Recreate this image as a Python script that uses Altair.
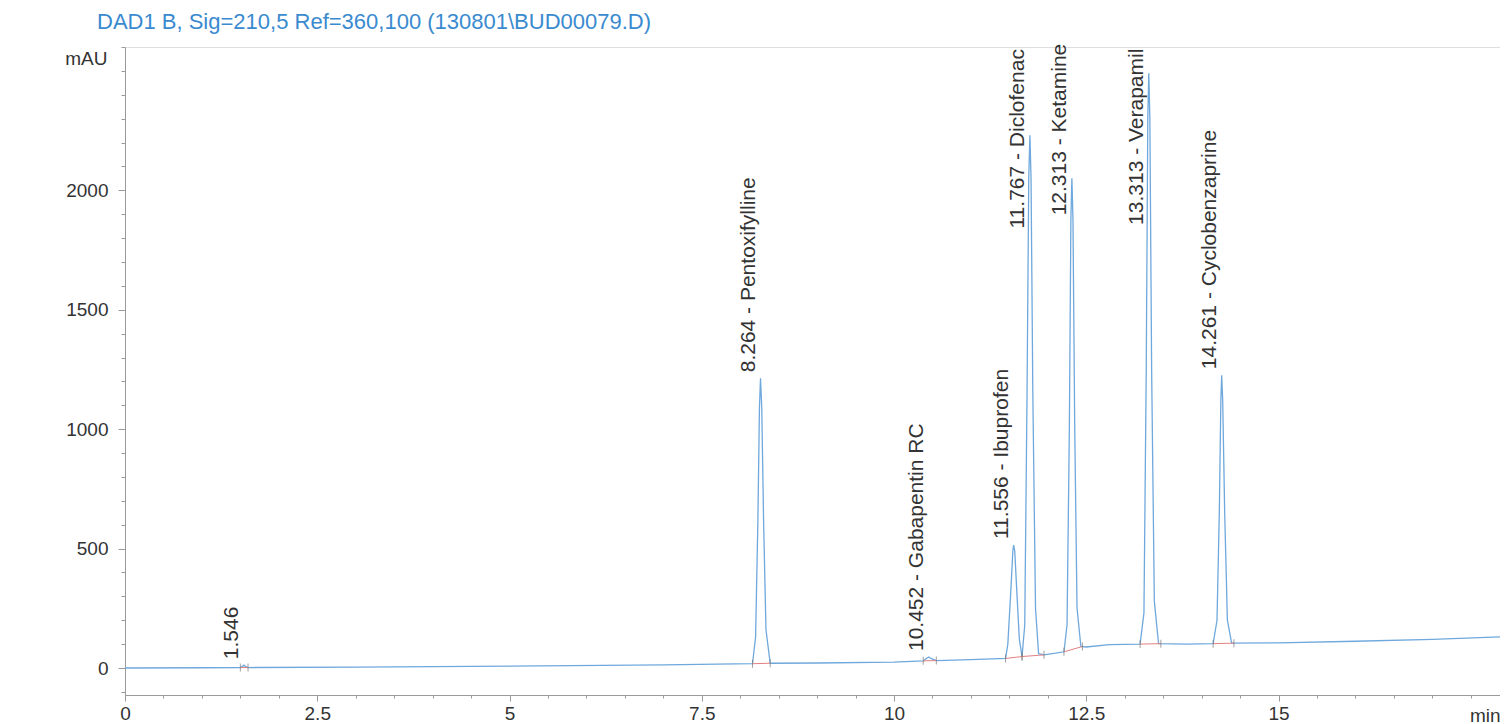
import altair as alt
import pandas as pd

# ---- signal trace (retention time in min, mAU) ----
trace_min = [
    0.0, 1.0, 1.50, 1.53, 1.546, 1.565, 1.60,
    3.0, 5.0, 7.0,
    8.16, 8.20, 8.23, 8.25, 8.264, 8.28, 8.305, 8.335, 8.39,
    9.0, 10.0,
    10.38, 10.42, 10.452, 10.48, 10.55,
    11.0,
    11.45, 11.48, 11.52, 11.545, 11.556, 11.57, 11.60, 11.63, 11.665,
    11.70, 11.73, 11.752, 11.767, 11.782, 11.805, 11.84, 11.88, 11.95,
    12.1,
    12.21, 12.25, 12.28, 12.30, 12.313, 12.327, 12.35, 12.38, 12.43,
    12.5, 12.8,
    13.2, 13.25, 13.28, 13.30, 13.313, 13.327, 13.35, 13.385, 13.44,
    13.8,
    14.15, 14.20, 14.23, 14.25, 14.261, 14.274, 14.30, 14.335, 14.39,
    15.0, 16.0, 17.0, 17.88,
]
trace_mau = [
    0, 1, 2, 8, 12, 7, 2,
    4, 8, 13,
    18, 130, 620, 1090, 1213, 1090, 600, 160, 20,
    21, 25,
    30, 40, 46, 40, 31,
    35,
    40, 100, 330, 490, 515, 490, 300, 120, 48,
    180, 1150, 2050, 2230, 2050, 1150, 250, 60, 55,
    62,
    68, 180, 1000, 1880, 2050, 1880, 1000, 250, 90,
    88, 98,
    100, 230, 1250, 2300, 2490, 2300, 1250, 280, 102,
    100,
    102, 200, 650, 1120, 1226, 1120, 650, 200, 104,
    105, 112, 120, 130,
]

# ---- peak annotations (retention time, name, level where the label starts) ----
peak_rt = [1.546, 8.264, 10.452, 11.556, 11.767, 12.313, 13.313, 14.261]
peak_name = ["", "Pentoxifylline", "Gabapentin RC", "Ibuprofen", "Diclofenac",
             "Ketamine", "Verapamil", "Cyclobenzaprine"]
label_mau = [12, 1213, 46, 515, 1815, 1870, 1830, 1226]

# ---- integration baselines (start/end time and level) ----
int_start = [1.50, 8.16, 10.38, 11.45, 11.665, 12.21, 13.20, 14.15]
int_end = [1.60, 8.39, 10.55, 11.665, 11.95, 12.45, 13.47, 14.42]
base_start = [2, 18, 30, 40, 48, 68, 100, 102]
base_end = [2, 20, 31, 48, 55, 90, 102, 104]

# ---- axis ticks ----
x_major = [0, 2.5, 5, 7.5, 10, 12.5, 15]
x_minor = [0, 0.5, 1, 1.5, 2, 2.5, 3, 3.5, 4, 4.5, 5, 5.5, 6, 6.5, 7, 7.5, 8, 8.5,
           9, 9.5, 10, 10.5, 11, 11.5, 12, 12.5, 13, 13.5, 14, 14.5, 15, 15.5,
           16, 16.5, 17, 17.5]
y_major = [0, 500, 1000, 1500, 2000]
y_minor = [-100, 0, 100, 200, 300, 400, 500, 600, 700, 800, 900, 1000, 1100, 1200,
           1300, 1400, 1500, 1600, 1700, 1800, 1900, 2000, 2100, 2200, 2300, 2400,
           2500, 2600]

FONT = "Liberation Sans"
TXT = "#333333"
AX = "#9a9a9a"

df_trace = pd.DataFrame({"min": trace_min, "mau": trace_mau})
labels = [f"{rt:.3f}" if not n else f"{rt:.3f} - {n}" for rt, n in zip(peak_rt, peak_name)]
df_peaks = pd.DataFrame({"rt": peak_rt, "lvl": label_mau, "label": labels})
df_int = pd.DataFrame({"t0": int_start, "t1": int_end, "b0": base_start, "b1": base_end})
df_marks = pd.DataFrame({"t": int_start + int_end, "b": base_start + base_end})

x_scale = alt.Scale(domain=[0, 17.88], nice=False, zero=False)
y_scale = alt.Scale(domain=[-113, 2600], nice=False, zero=False)

x_axis = alt.Axis(
    values=x_major, format=".1~f", orient="bottom",
    labelOverlap=False, labelFlush=False, labelPadding=3,
    labelFont=FONT, labelFontSize=19, labelColor=TXT,
    tickSize=6, tickColor=AX, domainColor=AX, grid=False,
    title="min", titleX=1375, titleY=20, titleAlign="right", titleBaseline="middle",
    titleAngle=0, titleFont=FONT, titleFontSize=19, titleFontWeight="normal", titleColor=TXT,
)
y_axis = alt.Axis(
    values=y_major, format="d", orient="left",
    labelOverlap=False, labelFlush=False, labelPadding=10,
    labelFont=FONT, labelFontSize=19, labelColor=TXT,
    tickSize=7, tickColor=AX, domainColor=AX, grid=False,
    title="mAU", titleX=-18, titleY=11, titleAlign="right", titleBaseline="middle",
    titleAngle=0, titleFont=FONT, titleFontSize=19, titleFontWeight="normal", titleColor=TXT,
)
x_minor_axis = alt.Axis(values=x_minor, orient="bottom", labels=False, domain=False,
                        tickSize=3, tickColor=AX, grid=False, title=None)
y_minor_axis = alt.Axis(values=y_minor, orient="left", labels=False, domain=False,
                        tickSize=4, tickColor=AX, grid=False, title=None)

line = alt.Chart(df_trace).mark_line(color="#6fa8dc", strokeWidth=1.3).encode(
    x=alt.X("min:Q", scale=x_scale, axis=x_axis),
    y=alt.Y("mau:Q", scale=y_scale, axis=y_axis),
)

rules = alt.Chart(df_int).mark_rule(color="#e38080", strokeWidth=1).encode(
    x=alt.X("t0:Q", scale=x_scale, axis=x_minor_axis), x2="t1:Q",
    y=alt.Y("b0:Q", scale=y_scale, axis=y_minor_axis), y2="b1:Q",
)

ticks = alt.Chart(df_marks).mark_tick(orient="vertical", size=8, thickness=1, color="#777777").encode(
    x=alt.X("t:Q", scale=x_scale, axis=None), y=alt.Y("b:Q", scale=y_scale, axis=None),
)

text = alt.Chart(df_peaks).mark_text(
    angle=270, align="left", baseline="alphabetic", dx=6, dy=-6,
    font=FONT, fontSize=21, color=TXT,
).encode(
    x=alt.X("rt:Q", scale=x_scale, axis=None), y=alt.Y("lvl:Q", scale=y_scale, axis=None),
    text="label:N",
)

chart = alt.layer(line, rules, ticks, text).resolve_axis(
    x="independent", y="independent"
).properties(
    width=1375, height=648,
    autosize=alt.AutoSizeParams(type="none"),
    padding={"left": 117, "top": 39, "right": 0, "bottom": 29},
    title=alt.TitleParams(
        text="DAD1 B, Sig=210,5 Ref=360,100 (130801\\BUD00079.D)",
        anchor="start", frame="group", dx=-28, offset=10,
        font=FONT, fontSize=22, fontWeight="normal", color="#3a8ad0",
    ),
).configure_view(stroke=None).configure(font=FONT)

chart.save("out.html", embed_options={"renderer": "svg", "actions": False})
